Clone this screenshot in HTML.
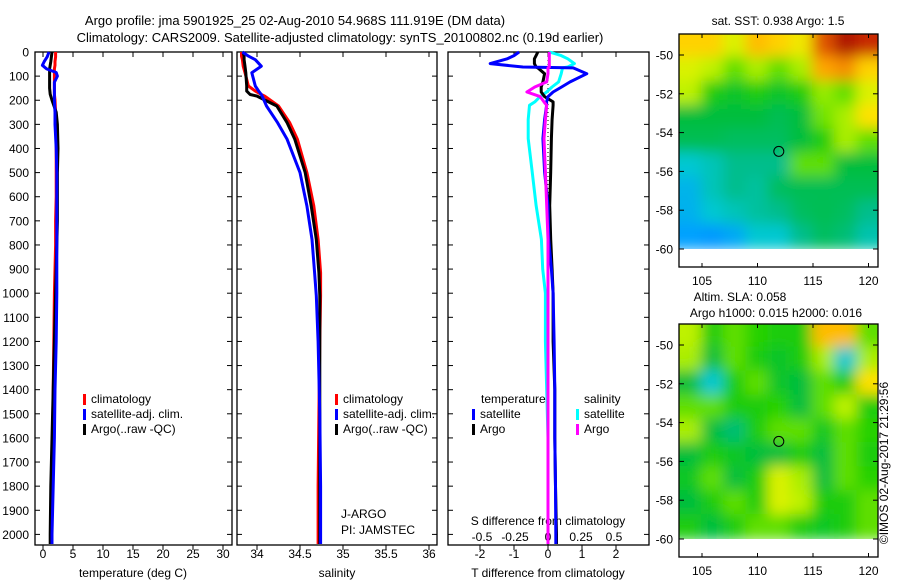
<!DOCTYPE html>
<html><head><meta charset="utf-8"><style>
body{margin:0;background:#fff;}
svg{display:block;font-family:"Liberation Sans",sans-serif;}
text{fill:#000;}
</style></head><body>
<svg id="c" width="900" height="580" viewBox="0 0 900 580">
<defs>
<filter id="blur" x="-10%" y="-10%" width="120%" height="120%"><feGaussianBlur stdDeviation="7"/></filter>
<clipPath id="clip1"><rect x="679" y="34" width="199" height="215"/></clipPath>
<clipPath id="clip2"><rect x="679" y="324" width="199" height="215"/></clipPath>
</defs>
<text x="295" y="25" font-size="13" text-anchor="middle">Argo profile: jma 5901925_25 02-Aug-2010 54.968S 111.919E (DM data)</text>
<text x="340" y="42" font-size="13" text-anchor="middle">Climatology: CARS2009. Satellite-adjusted climatology: synTS_20100802.nc (0.19d earlier)</text>
<g id="g"></g>
</svg>
<script>
// ---- data ----
const depthTicks = [0,100,200,300,400,500,600,700,800,900,1000,1100,1200,1300,1400,1500,1600,1700,1800,1900,2000];
const tempTicks = [0,5,10,15,20,25,30];
const salTicks = [34,34.5,35,35.5,36];
const tdiffTicks = [-2,-1,0,1,2];
const sdiffTicks = [-0.5,-0.25,0,0.25,0.5];
const sdiffTickLabels = ["-0.5","-0.25","0","0.25","0.5"];

const tDepth = [0,20,40,55,70,85,100,125,150,175,200,250,300,400,500,600,700,800,900,1000,1200,1400,1600,1800,2000,2040];
const tempClim = [2.1,2.1,2.0,2.0,1.9,1.9,1.9,1.9,1.9,1.9,2.0,2.1,2.2,2.2,2.2,2.2,2.1,2.1,2.0,1.9,1.8,1.7,1.6,1.5,1.3,1.3];
const tempSat = [1.0,0.7,0.2,-0.1,0.6,2.2,2.4,1.9,1.9,1.9,1.9,2.0,2.0,2.2,2.3,2.3,2.3,2.3,2.3,2.3,2.2,2.0,1.9,1.7,1.5,1.5];
const tempArgo = [1.5,1.4,1.3,1.2,1.1,1.1,1.1,1.1,1.1,1.2,1.5,2.2,2.4,2.5,2.4,2.4,2.4,2.3,2.2,2.1,1.9,1.7,1.5,1.3,1.2,1.2];

const sDepth = [0,17,32,59,86,141,162,176,183,224,293,362,500,638,777,915,1010,1200,1500,1800,2000,2040];
const salClim = [33.82,33.82,33.83,33.84,33.86,33.9,33.98,34.05,34.09,34.25,34.38,34.47,34.58,34.66,34.71,34.74,34.74,34.73,34.72,34.71,34.71,34.71];
const salSat = [33.83,33.9,33.98,34.05,33.94,33.98,34.02,34.05,34.06,34.11,34.24,34.35,34.5,34.58,34.64,34.67,34.69,34.71,34.73,34.74,34.74,34.74];
const salArgo = [33.84,33.85,33.85,33.86,33.87,33.88,33.88,33.92,34.0,34.23,34.35,34.44,34.56,34.63,34.69,34.72,34.73,34.73,34.73,34.73,34.73,34.73];

const dDepth = [0,15,28,48,62,66,90,124,145,166,185,207,221,280,359,497,636,777,900,1000,1200,1400,1600,1800,2000,2040];
const tdiffSat = [-0.85,-1.0,-1.2,-1.7,-0.74,0.74,1.14,0.65,0.4,0.15,0.0,-0.04,-0.04,-0.1,-0.15,-0.1,0.0,0.02,0.1,0.15,0.18,0.2,0.2,0.22,0.23,0.23];
const tdiffArgo = [-0.3,-0.35,-0.4,-0.4,-0.35,-0.3,-0.1,-0.15,-0.2,-0.2,-0.1,0.15,0.15,0.12,0.1,0.08,0.05,0.08,0.12,0.15,0.15,0.2,0.2,0.22,0.25,0.25];
const sdiffSat = [0.01,0.1,0.15,0.2,0.15,0.11,0.1,0.08,0.03,-0.01,-0.06,-0.1,-0.14,-0.15,-0.15,-0.12,-0.09,-0.05,-0.04,-0.02,-0.02,-0.01,0.0,0.0,0.0,0.0];
const sdiffArgo = [0.01,0.01,0.01,0.01,0.01,0.0,0.0,-0.01,-0.1,-0.16,-0.06,-0.03,-0.01,-0.02,-0.03,-0.02,-0.01,0.0,0.0,0.0,0.0,0.0,0.0,0.0,0.0,0.0];

const latTicks = [-50,-52,-54,-56,-58,-60];
const lonTicks = [105,110,115,120];
const sstGrid = [
 [0.72,0.72,0.65,0.75,0.72,0.68,0.85,0.95,0.9],
 [0.65,0.62,0.55,0.6,0.55,0.6,0.78,0.8,0.72],
 [0.62,0.5,0.47,0.5,0.47,0.5,0.58,0.55,0.65],
 [0.45,0.45,0.45,0.45,0.43,0.45,0.56,0.6,0.7],
 [0.43,0.43,0.42,0.42,0.42,0.45,0.5,0.6,0.55],
 [0.3,0.33,0.38,0.38,0.38,0.55,0.55,0.45,0.45],
 [0.25,0.33,0.38,0.36,0.42,0.43,0.43,0.43,0.43],
 [0.24,0.3,0.33,0.36,0.38,0.42,0.43,0.42,0.38],
 [0.2,0.18,0.22,0.3,0.3,0.38,0.42,0.4,0.34]];
const slaGrid = [
 [0.62,0.5,0.55,0.52,0.5,0.5,0.75,0.75,0.55],
 [0.6,0.45,0.55,0.5,0.47,0.5,0.6,0.3,0.6],
 [0.45,0.3,0.5,0.55,0.47,0.45,0.55,0.5,0.7],
 [0.55,0.55,0.5,0.5,0.52,0.45,0.55,0.62,0.5],
 [0.6,0.45,0.4,0.5,0.55,0.55,0.48,0.55,0.52],
 [0.45,0.5,0.48,0.45,0.45,0.5,0.45,0.55,0.5],
 [0.48,0.55,0.45,0.5,0.65,0.6,0.45,0.55,0.52],
 [0.45,0.5,0.55,0.5,0.65,0.62,0.5,0.5,0.55],
 [0.5,0.45,0.5,0.55,0.55,0.5,0.48,0.5,0.55]];
const floatLon = 111.919, floatLat = -54.968;

// ---- layout ----
const NS="http://www.w3.org/2000/svg";
const G=document.getElementById('g');
function mk(tag,at,parent){const e=document.createElementNS(NS,tag);for(const k in at)e.setAttribute(k,at[k]);(parent||G).appendChild(e);return e;}
const TOP=52,BOT=545;
const yD=d=>52+d*0.2412;
const xT=v=>43+v*6;
const xS=v=>257+(v-34)*86;
const xTd=v=>548+v*34;
const xSd=v=>548+v*132;
const panels=[[35,232],[237,437],[448,649]];
panels.forEach((p,i)=>{
  const r=mk('rect',{x:p[0],y:TOP,width:p[1]-p[0],height:BOT-TOP,fill:'none',stroke:'#000','stroke-width':1.3});
  
  
  depthTicks.forEach(d=>{
    mk('line',{x1:p[0],x2:p[0]+5,y1:yD(d),y2:yD(d),stroke:'#000'});
    mk('line',{x1:p[1]-5,x2:p[1],y1:yD(d),y2:yD(d),stroke:'#000'});
  });
});
depthTicks.forEach(d=>{
  const t=mk('text',{x:29,y:yD(d)+4.5,'font-size':12,'text-anchor':'end'});t.textContent=d;
  
  
});
function xAxis(ticks,fx,labels,ly){
  ticks.forEach((v,i)=>{
    const x=fx(v);
    mk('line',{x1:x,x2:x,y1:TOP,y2:TOP+5,stroke:'#000'});
    mk('line',{x1:x,x2:x,y1:BOT,y2:BOT+5,stroke:'#000'});
    const t=mk('text',{x:x,y:ly,'font-size':12,'text-anchor':'middle'});t.textContent=labels?labels[i]:v;
    
    
  });
}
xAxis(tempTicks,xT,null,558);
xAxis(salTicks,xS,null,558);
xAxis(tdiffTicks,xTd,null,558);
sdiffTicks.forEach((v,i)=>{const t=mk('text',{x:xSd(v),y:541,'font-size':12,'text-anchor':'middle'});t.textContent=sdiffTickLabels[i];
 
 });
function label(x,y,s,name,anchor,size){const t=mk('text',{x:x,y:y,'font-size':size||12,'text-anchor':anchor||'middle'});t.textContent=s;
 
 return t;}
label(133,577,'temperature (deg C)','temperature-axis-title');
label(337,577,'salinity','salinity-axis-title');
label(548,577,'T difference from climatology','t-diff-axis-title');
label(548,525,'S difference from climatology','s-diff-axis-title');
label(341,518,'J-ARGO','j-argo-label','start');
label(341,534,'PI: JAMSTEC','pi-label','start');

mk('line',{x1:xTd(0),x2:xTd(0),y1:TOP,y2:BOT,stroke:'#000','stroke-dasharray':'1,3'});

function series(depths,vals,fx,color,name){
  const pts=vals.map((v,i)=>fx(v).toFixed(1)+','+yD(depths[i]).toFixed(1)).join(' ');
  const e=mk('polyline',{points:pts,fill:'none',stroke:color,'stroke-width':3,'stroke-linejoin':'round'});
  
  
}
series(tDepth,tempClim,xT,'#f00','temp-climatology-line');
series(tDepth,tempArgo,xT,'#000','temp-argo-line');
series(tDepth,tempSat,xT,'#00f','temp-satellite-line');
series(sDepth,salClim,xS,'#f00','sal-climatology-line');
series(sDepth,salArgo,xS,'#000','sal-argo-line');
series(sDepth,salSat,xS,'#00f','sal-satellite-line');
series(dDepth,sdiffSat,xSd,'#0ff','sdiff-satellite-line');
series(dDepth,tdiffArgo,xTd,'#000','tdiff-argo-line');
series(dDepth,tdiffSat,xTd,'#00f','tdiff-satellite-line');
series(dDepth,sdiffArgo,xSd,'#f0f','sdiff-argo-line');

function legendEntry(x,y,color,txt,name){
  mk('rect',{x:x,y:y-9,width:3,height:11,fill:color});
  label(x+8,y,txt,name,'start');
}
[83,335].forEach((x,k)=>{
  legendEntry(x,403,'#f00','climatology','legend-climatology-'+(k+1));
  legendEntry(x,418,'#00f','satellite-adj. clim.','legend-satellite-'+(k+1));
  legendEntry(x,433,'#000','Argo(..raw -QC)','legend-argo-'+(k+1));
});
label(481,403,'temperature','legend-temperature-header','start');
label(584,403,'salinity','legend-salinity-header','start');
legendEntry(472,418,'#00f','satellite','legend-t-satellite');
legendEntry(472,433,'#000','Argo','legend-t-argo');
legendEntry(576,418,'#0ff','satellite','legend-s-satellite');
legendEntry(576,433,'#f0f','Argo','legend-s-argo');

// ---- maps ----
const cmapStops=[[0,[0,90,255]],[0.2,[0,160,255]],[0.3,[0,200,210]],[0.38,[0,190,140]],[0.45,[0,190,60]],[0.52,[40,210,0]],[0.58,[150,235,0]],[0.64,[210,245,0]],[0.7,[255,225,0]],[0.78,[255,165,0]],[0.88,[210,50,0]],[1,[150,0,0]]];
function cmap(v){
  v=Math.max(0,Math.min(1,v));
  for(let i=1;i<cmapStops.length;i++){
    const [a,ca]=cmapStops[i-1],[b,cb]=cmapStops[i];
    if(v<=b){const t=(v-a)/(b-a);return 'rgb('+ca.map((c,k)=>Math.round(c+(cb[k]-c)*t)).join(',')+')';}
  }
  return 'rgb(150,0,0)';
}
function drawMap(grid,top,clip,name){
  const latY=l=>top+21+(-50-l)*19.4;
  const lonX=l=>702+(l-105)*11.1;
  const bottom=top+233;
  const cg=mk('g',{'clip-path':'url(#'+clip+')'});
  
  
  const bg=mk('g',{filter:'url(#blur)'},cg);
  const nr=grid.length,nc=grid[0].length;
  const lat0=-48.9,lat1=-60,lon0=103,lon1=121;
  // edge padding so blur doesn't fade at borders
  grid.forEach((row,i)=>row.forEach((v,j)=>{
    let la=lat0+(lat1-lat0)*i/nr, lb=lat0+(lat1-lat0)*(i+1)/nr;
    let x0=lonX(lon0+(lon1-lon0)*j/nc), x1=lonX(lon0+(lon1-lon0)*(j+1)/nc);
    let y0=latY(la), y1=latY(lb);
    if(i===0)y0-=15; if(j===0)x0-=15; if(j===nc-1)x1+=15;
    const c=mk('rect',{x:x0-1,y:y0-1,width:x1-x0+2,height:y1-y0+2,fill:cmap(v)},bg);
    
    
  }));
  mk('rect',{x:679,y:latY(-60),width:199,height:bottom-latY(-60),fill:'#fff'},cg);
  const fr=mk('rect',{x:679,y:top,width:199,height:bottom-top,fill:'none',stroke:'#000','stroke-width':1.3});
  
  
  latTicks.forEach(l=>{
    mk('line',{x1:679,x2:684,y1:latY(l),y2:latY(l),stroke:'#000'});
    mk('line',{x1:873,x2:878,y1:latY(l),y2:latY(l),stroke:'#000'});
    label(673,latY(l)+4.5,String(l),'lat-tick-label','end');
  });
  lonTicks.forEach(l=>{
    mk('line',{x1:lonX(l),x2:lonX(l),y1:top,y2:top+4,stroke:'#000'});
    mk('line',{x1:lonX(l),x2:lonX(l),y1:bottom-4,y2:bottom,stroke:'#000'});
    label(lonX(l),bottom+18,String(l),'lon-tick-label');
  });
  const m=mk('circle',{cx:lonX(floatLon),cy:latY(floatLat),r:5,fill:'none',stroke:'#000','stroke-width':1});
  
  
}
drawMap(sstGrid,34,'clip1','sst-map');
drawMap(slaGrid,324,'clip2','sla-map');
label(778,25,'sat. SST: 0.938 Argo: 1.5','sst-map-title','middle',12);
label(740,301,'Altim. SLA: 0.058','sla-map-title','middle',12);
label(776,317,'Argo h1000: 0.015 h2000: 0.016','sla-map-subtitle','middle',12);
const w=label(0,0,'©IMOS 02-Aug-2017 21:29:56','imos-timestamp','middle',12);
w.setAttribute('transform','translate(888,463) rotate(-90)');
</script>
</body></html>
